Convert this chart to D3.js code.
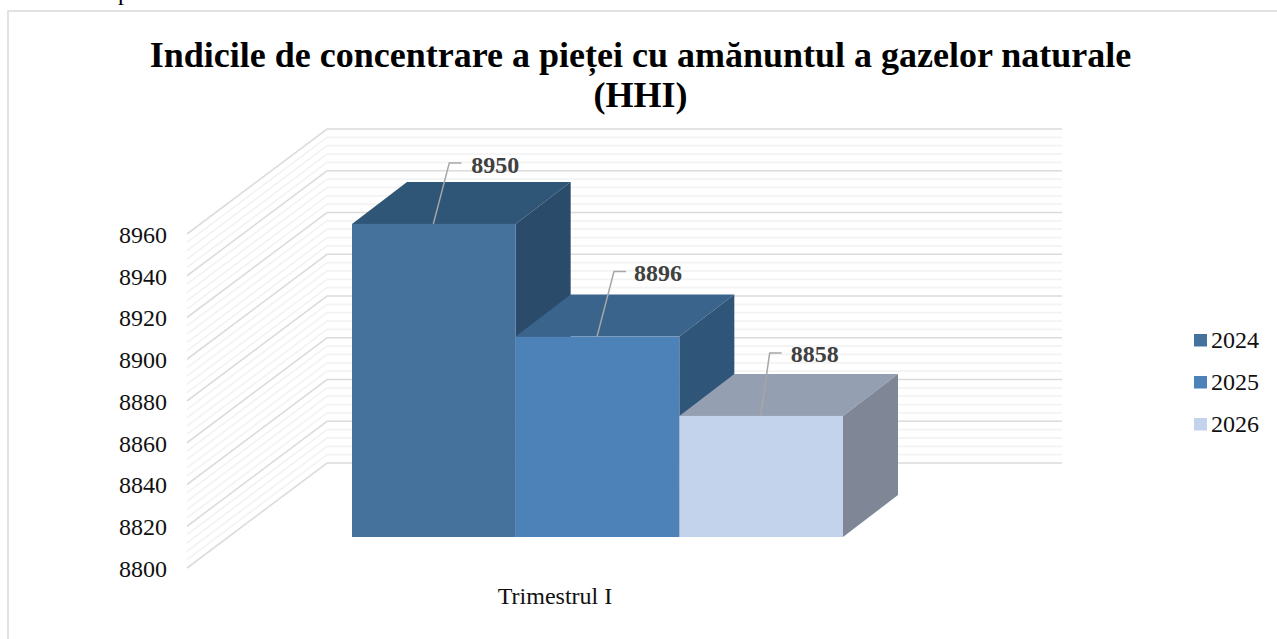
<!DOCTYPE html>
<html>
<head>
<meta charset="utf-8">
<script src="https://cdnjs.cloudflare.com/ajax/libs/d3/7.8.5/d3.min.js"></script>
<style>
  html, body { margin: 0; padding: 0; background: #fff; }
  svg { display: block; }
  text { font-family: "Liberation Serif", serif; }
</style>
</head>
<body>
<script>
// Values
const titleLines = ["Indicile de concentrare a pieței cu amănuntul a gazelor naturale", "(HHI)"];
const years = ["2024", "2025", "2026"];
const values = [8950, 8896, 8858];
const category = "Trimestrul I";
const yTicks = [8800, 8820, 8840, 8860, 8880, 8900, 8920, 8940, 8960];
const minorStep = 4;

const frontColors = ["#44729c", "#4d82b8", "#c3d3eb"];
const topColors = ["#2f5677", "#3a648c", "#959fb2"];
const sideColors = ["#2a4b69", "#2f5678", "#7f8797"];

const width = 1277, height = 639;

const svg = d3.select("body").append("svg")
              .attr("width", width)
              .attr("height", height);

// chart frame, the crop cuts it at the right and the bottom
svg.append("path")
   .attr("d", `M8,${height} V11 H${width}`)
   .attr("fill", "none")
   .attr("stroke", "#d9d9d9")
   .attr("stroke-width", 1.5);

// cut off letter from the text above the chart
svg.append("text").attr("x", 118).attr("y", 0)
   .attr("font-size", 24).attr("fill", "#000").text("p");

// Title
svg.append("g").selectAll("text")
   .data(titleLines)
   .join("text")
   .attr("x", 640.5)
   .attr("y", (d, i) => 67 + i * 40)
   .attr("text-anchor", "middle")
   .attr("font-size", 36)
   .attr("font-weight", "bold")
   .attr("fill", "#000")
   .text(d => d);

// Scales. The y axis sits on the front edge of the floor.
const yScale = d3.scaleLinear().domain([8800, 8960]).range([568, 234]);
const wallDx = 140, wallDy = -105;   // front edge -> back wall
const axisX = 187, wallRight = 1062;
const barDx = 55, barDy = -42;       // depth of a bar
const barLift = -31;                 // bar front plane above the floor front edge

const xScale = d3.scaleBand().domain(years).range([352, 843]);

// Grid on the side wall and back wall
const minorValues = d3.range(8800, 8960 + 0.01, minorStep).filter(v => !yTicks.includes(v));
const grid = svg.append("g").attr("fill", "none");
function drawGrid(vals, color, w) {
  grid.append("g").selectAll("path")
      .data(vals)
      .join("path")
      .attr("d", v => `M${axisX},${yScale(v)} L${axisX + wallDx},${yScale(v) + wallDy} H${wallRight}`)
      .attr("stroke", color)
      .attr("stroke-width", w);
}
drawGrid(minorValues, "#f3f3f3", 1.8);
drawGrid(yTicks, "#dcdcdc", 1.6);

// Y axis: only the labels show
const yAxis = svg.append("g")
   .attr("transform", `translate(${axisX - 20},0)`)
   .call(d3.axisLeft(yScale).tickValues(yTicks).tickSize(0).tickPadding(0).tickFormat(d3.format("d")));
yAxis.select(".domain").remove();
yAxis.selectAll("text")
     .attr("font-size", 24)
     .attr("dy", "0.35em")
     .attr("fill", "#111")
     .style("font-family", '"Liberation Serif", serif');

// Bars, left to right so each one covers the side of the one before
const baseY = yScale(8800) + barLift;
const bars = svg.append("g").selectAll("g")
   .data(years)
   .join("g");

bars.append("path")   // top
    .attr("fill", (d, i) => topColors[i])
    .attr("d", (d, i) => {
      const x = xScale(d), y = yScale(values[i]) + barLift, w = xScale.bandwidth();
      return `M${x},${y} l${barDx},${barDy} h${w} l${-barDx},${-barDy} Z`;
    });
bars.append("path")   // side
    .attr("fill", (d, i) => sideColors[i])
    .attr("d", (d, i) => {
      const x = xScale(d) + xScale.bandwidth(), y = yScale(values[i]) + barLift;
      return `M${x},${y} l${barDx},${barDy} V${baseY + barDy} L${x},${baseY} Z`;
    });
bars.append("rect")   // front
    .attr("fill", (d, i) => frontColors[i])
    .attr("x", d => xScale(d))
    .attr("y", (d, i) => yScale(values[i]) + barLift)
    .attr("width", xScale.bandwidth())
    .attr("height", (d, i) => baseY - yScale(values[i]) - barLift);

// Data labels with leader lines. Each label was dragged by hand in the original.
const elbowDx = [16, 17, 9], elbowDy = [-61, -65, -63];
const labelDx = [38, 37, 30], labelDy = [-51, -56, -54];
const anchorX = d => xScale(d) + xScale.bandwidth() / 2 - 0.5;

const labels = svg.append("g").selectAll("g")
   .data(years)
   .join("g");
labels.append("path")
      .attr("fill", "none")
      .attr("stroke", "#a6a6a6")
      .attr("stroke-width", 1.5)
      .attr("d", (d, i) => {
        const x = anchorX(d), y = yScale(values[i]) + barLift;
        return `M${x},${y} L${x + elbowDx[i]},${y + elbowDy[i]} h12`;
      });
labels.append("text")
      .attr("x", (d, i) => anchorX(d) + labelDx[i])
      .attr("y", (d, i) => yScale(values[i]) + barLift + labelDy[i])
      .attr("font-size", 24)
      .attr("font-weight", "bold")
      .attr("fill", "#404040")
      .text((d, i) => values[i]);

// Category label
svg.append("text")
   .attr("x", 555)
   .attr("y", 604)
   .attr("text-anchor", "middle")
   .attr("font-size", 24)
   .attr("fill", "#111")
   .text(category);

// Legend
const legend = svg.append("g").selectAll("g")
   .data(years)
   .join("g")
   .attr("transform", (d, i) => `translate(1194,${340 + i * 42})`);
legend.append("rect")
      .attr("y", -6)
      .attr("width", 13)
      .attr("height", 12.5)
      .attr("fill", (d, i) => frontColors[i]);
legend.append("text")
      .attr("x", 17)
      .attr("y", 7.5)
      .attr("font-size", 24)
      .attr("fill", "#111")
      .text(d => d);
</script>
</body>
</html>
